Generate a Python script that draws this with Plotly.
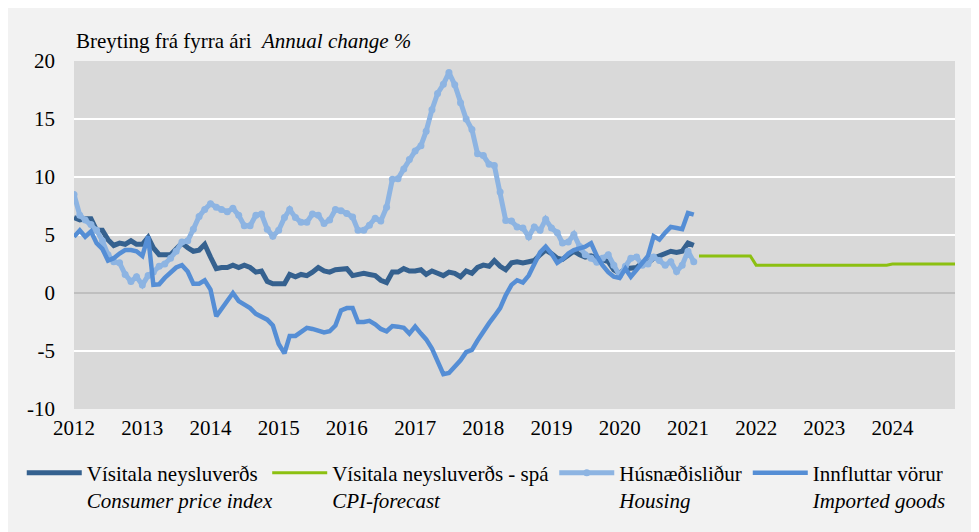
import pandas as pd
import plotly.graph_objects as go

# ---------------- data ----------------
actual_start = "2012-01-01"
forecast_start = "2021-03-01"

cpi = [
    6.5, 6.3, 6.4, 6.4, 5.4, 5.4, 4.6, 4.1, 4.3, 4.2, 4.5, 4.2,
    4.2, 4.8, 3.9, 3.3, 3.3, 3.3, 3.8, 4.3, 3.9, 3.6, 3.7, 4.2,
    3.1, 2.1, 2.2, 2.2, 2.4, 2.2, 2.4, 2.2, 1.8, 1.9, 1.0, 0.8,
    0.8, 0.8, 1.6, 1.4, 1.6, 1.5, 1.8, 2.2, 1.9, 1.8, 2.0, 2.0,
    2.1, 1.5, 1.6, 1.7, 1.6, 1.5, 1.1, 0.9, 1.8, 1.8, 2.1, 1.9,
    1.9, 2.0, 1.6, 1.9, 1.7, 1.5, 1.8, 1.7, 1.4, 1.9, 1.7, 2.2,
    2.4, 2.3, 2.8, 2.3, 2.0, 2.6, 2.7, 2.6, 2.7, 2.8, 3.3, 3.7,
    3.4, 3.0, 2.9, 3.3, 3.6, 3.3, 3.1, 3.2, 3.0, 2.8, 2.7, 2.0,
    1.7, 2.1, 2.1, 2.2, 2.6, 2.6, 3.0, 3.2, 3.5, 3.6, 3.5, 3.6,
    4.3, 4.1,
]

housing = [
    8.5, 6.7, 6.3, 5.9, 5.4, 4.5, 3.3, 2.7, 2.6, 1.6, 1.0, 1.4,
    0.7, 1.5, 1.8, 2.3, 2.5, 3.0, 3.6, 4.4, 4.5, 5.5, 6.6, 7.2,
    7.7, 7.4, 7.2, 7.0, 7.3, 6.7, 5.8, 5.8, 6.7, 6.8, 5.5, 4.9,
    5.4, 6.5, 7.2, 6.5, 6.1, 6.1, 6.8, 6.7, 6.0, 6.3, 7.2, 7.1,
    6.85, 6.55, 5.4, 5.4, 5.85, 6.45, 6.2, 7.4, 9.8, 9.85, 10.7, 11.5,
    12.25, 12.7, 13.95, 15.8, 17.2, 18.0, 19.0, 17.95, 16.4, 15.0, 14.1, 12.0,
    11.85, 11.1, 11.0, 8.7, 6.25, 6.2, 5.7, 5.6, 4.85, 5.7, 5.4, 6.35,
    5.6, 5.2, 4.3, 4.4, 5.05, 4.0, 3.3, 3.0, 2.65, 3.0, 3.3, 2.4,
    1.5, 2.3, 3.0, 3.1, 2.4, 2.5, 3.1, 2.8, 2.4, 2.7, 1.85, 2.4,
    3.6, 2.7,
]

imported = [
    4.85, 5.4, 4.85, 5.3, 4.3, 3.8, 2.8, 3.0, 3.4, 3.7, 3.7, 3.6,
    3.2, 4.9, 0.7, 0.75, 1.3, 1.8, 2.2, 2.4, 1.85, 0.8, 0.8, 1.1,
    0.3, -2.0, -1.4, -0.7, 0.0, -0.7, -1.0, -1.3, -1.8, -2.0, -2.3, -2.8,
    -4.4, -5.2, -3.7, -3.7, -3.4, -3.0, -3.1, -3.3, -3.4, -3.3, -2.8, -1.5,
    -1.3, -1.3, -2.5, -2.5, -2.4, -2.7, -3.1, -3.3, -2.85, -2.9, -3.0, -3.5,
    -2.9, -3.5, -4.0, -4.8, -5.8, -7.0, -6.9, -6.4, -5.8, -5.1, -4.9, -4.1,
    -3.3, -2.6, -2.0, -1.3, -0.2, 0.7, 1.1, 0.9, 1.5, 2.6, 3.5, 4.0,
    3.4, 2.6, 2.9, 3.4, 3.7, 3.85, 4.0, 4.3, 3.2, 2.4, 1.8, 1.4,
    1.3, 2.1, 1.4, 2.0, 2.6, 3.2, 4.9, 4.6, 5.2, 5.7, 5.6, 5.5,
    6.9, 6.75,
]

cpi_forecast = [
    3.2, 3.2, 3.2, 3.2, 3.2, 3.2, 3.2, 3.2, 3.2, 3.2,
    2.4, 2.4, 2.4, 2.4, 2.4, 2.4, 2.4, 2.4, 2.4, 2.4, 2.4, 2.4,
    2.4, 2.4, 2.4, 2.4, 2.4, 2.4, 2.4, 2.4, 2.4, 2.4, 2.4, 2.4,
    2.5, 2.5, 2.5, 2.5, 2.5, 2.5, 2.5, 2.5, 2.5, 2.5, 2.5, 2.5,
]

names = [
    "Vísitala neysluverðs<br><i>Consumer price index</i>",
    "Vísitala neysluverðs - spá<br><i>CPI-forecast</i>",
    "Húsnæðisliður<br><i>Housing</i>",
    "Innfluttar vörur<br><i>Imported goods</i>",
]
title_text = "Breyting frá fyrra ári&nbsp; <i>Annual change %</i>"
y_ticks = [-10, -5, 0, 5, 10, 15, 20]

dates = pd.date_range(actual_start, periods=len(cpi), freq="MS")
fdates = pd.date_range(forecast_start, periods=len(cpi_forecast), freq="MS")

FONT = "Liberation Serif, Times New Roman, serif"

fig = go.Figure()
fig.add_trace(go.Scatter(x=dates, y=cpi, name=names[0], mode="lines",
                         line=dict(color="#35618F", width=5), legend="legend"))
fig.add_trace(go.Scatter(x=fdates, y=cpi_forecast, name=names[1], mode="lines",
                         line=dict(color="#8CC011", width=3), legend="legend2"))
fig.add_trace(go.Scatter(x=dates, y=housing, name=names[2], mode="lines+markers",
                         line=dict(color="#8DB4E2", width=5),
                         marker=dict(color="#8DB4E2", size=7), legend="legend2"))
fig.add_trace(go.Scatter(x=dates, y=imported, name=names[3], mode="lines",
                         line=dict(color="#558ED5", width=4.5), legend="legend2"))

legend_common = dict(orientation="h", xanchor="left", y=-0.125, yanchor="top",
                     valign="top", bgcolor="rgba(0,0,0,0)",
                     font=dict(size=21, family=FONT),
                     traceorder="normal", itemwidth=55)

fig.update_layout(
    width=971, height=524,
    margin=dict(l=66, r=24, t=53, b=120),
    paper_bgcolor="#F2F2F2",
    plot_bgcolor="#D9D9D9",
    font=dict(family=FONT, size=21, color="#000000"),
    showlegend=True,
    legend=dict(x=-0.0593, **legend_common),
    legend2=dict(x=0.2193, **legend_common),
    annotations=[
        dict(text=title_text, xref="paper", yref="paper", x=0.0, y=1.057,
             xanchor="left", yanchor="middle", showarrow=False,
             font=dict(size=21, family=FONT)),
    ],
)

fig.update_xaxes(
    type="date", range=["2012-01-01", "2024-12-01"],
    tick0="2012-01-01", dtick="M12", tickformat="%Y",
    showgrid=False, showline=False, zeroline=False, ticks="",
    ticklabelstandoff=4,
    tickfont=dict(size=21, family=FONT),
)
fig.update_yaxes(
    range=[-10, 20], tickvals=y_ticks, ticktext=[str(v) for v in y_ticks],
    showgrid=True, gridcolor="#FFFFFF", gridwidth=2,
    zeroline=True, zerolinecolor="#BFBFBF", zerolinewidth=2,
    showline=False, ticks="", ticklabelstandoff=18,
    tickfont=dict(size=21, family=FONT),
)

fig.write_html("out.html")
